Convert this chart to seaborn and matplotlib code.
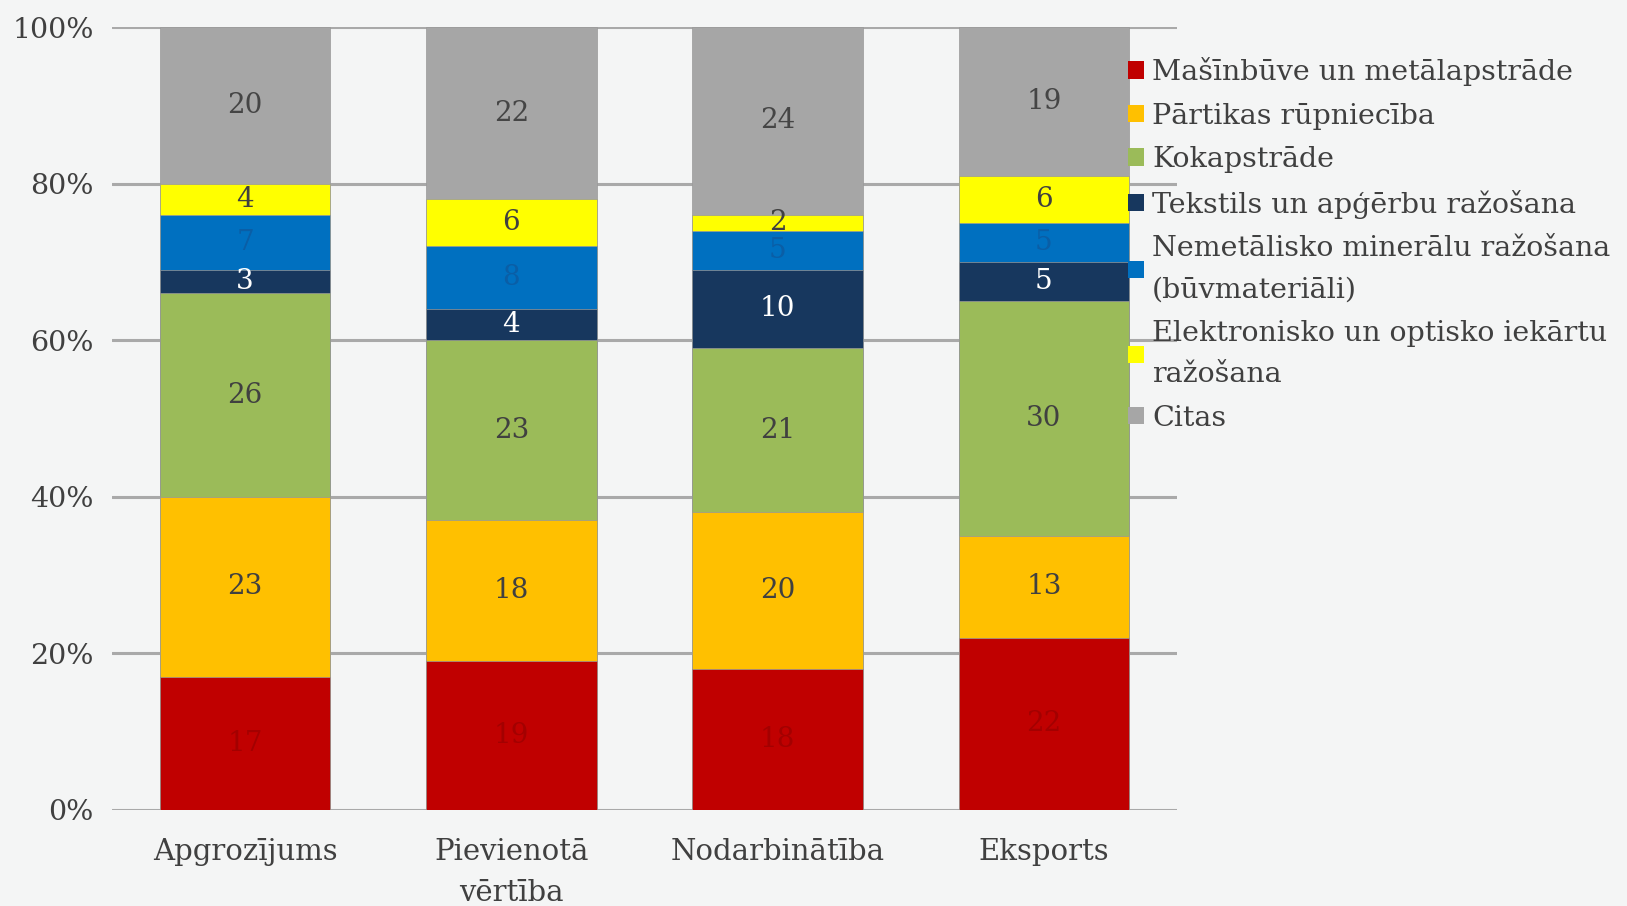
import numpy as np
import pandas as pd
import matplotlib
matplotlib.use("Agg")
import matplotlib.pyplot as plt
import seaborn as sns

# Data (percent shares)
categories = ["Apgrozījums", "Pievienotā\nvērtība", "Nodarbinātība", "Eksports"]
series_names = [
    "Mašīnbūve un metālapstrāde",
    "Pārtikas rūpniecība",
    "Kokapstrāde",
    "Tekstils un apģērbu ražošana",
    "Nemetālisko minerālu ražošana\n(būvmateriāli)",
    "Elektronisko un optisko iekārtu\nražošana",
    "Citas",
]
masinbuve = [17, 19, 18, 22]
partika = [23, 18, 20, 13]
koks = [26, 23, 21, 30]
tekstils = [3, 4, 10, 5]
nemetaliskie = [7, 8, 5, 5]
elektronika = [4, 6, 2, 6]
citas = [20, 22, 24, 19]

colors = ["#c00000", "#ffc000", "#9bbb59", "#17375e", "#0070c0", "#ffff00", "#a6a6a6"]
label_colors = ["#a30000", "#404040", "#404040", "white", "#0a5ea6", "#404040", "#454545"]

raw = [masinbuve, partika, koks, tekstils, nemetaliskie, elektronika, citas]
values = np.array(raw, dtype=float)
values = values / values.sum(axis=0) * 100
cum = values.cumsum(axis=0)

sns.set_theme(style="white")
plt.rcParams["font.family"] = ["DejaVu Serif"]

bg = "#f4f5f5"
fig = plt.figure(figsize=(16.27, 9.06), dpi=100, facecolor=bg)
ax = fig.add_axes([112 / 1627, 1 - 810 / 906, (1177 - 112) / 1627, (810 - 27) / 906])
ax.set_facecolor(bg)

# gridlines behind bars
for yv in range(0, 101, 20):
    ax.axhline(yv, color="#a9a9a9", lw=2.2, zorder=0)

# stacked bars: draw cumulative totals from the top series down
for i in range(len(series_names) - 1, -1, -1):
    df = pd.DataFrame({"cat": categories, "val": cum[i]})
    sns.barplot(data=df, x="cat", y="val", order=categories, color=colors[i],
                width=0.64, errorbar=None, saturation=1, ax=ax,
                edgecolor="#999999", linewidth=0.5, label=series_names[i], zorder=2)

# value labels
for i in range(len(series_names)):
    for j in range(len(categories)):
        mid = cum[i, j] - values[i, j] / 2
        ax.text(j, mid, str(raw[i][j]), ha="center", va="center", fontsize=20,
                color=label_colors[i], zorder=3)

ax.set_ylim(0, 100)
ax.set_xlim(-0.5, 3.5)
ax.set_yticks(range(0, 101, 20))
ax.set_yticklabels([f"{v}%" for v in range(0, 101, 20)], fontsize=20.5, color="#404040")
ax.tick_params(axis="y", length=0, pad=13)
ax.tick_params(axis="x", length=0, pad=20, labelsize=21, labelcolor="#404040")
for t in ax.get_xticklabels():
    t.set_linespacing(1.6)
ax.set_xlabel("")
ax.set_ylabel("")
for s in ax.spines.values():
    s.set_visible(False)

# legend in series order (bottom series first)
handles, labels = ax.get_legend_handles_labels()
if ax.get_legend() is not None:
    ax.get_legend().remove()
order = [labels.index(n) for n in series_names]
leg = fig.legend([handles[k] for k in order], [labels[k] for k in order],
                 loc="upper left", bbox_to_anchor=(1128 / 1627, 1 - 57 / 906),
                 frameon=False, fontsize=20.5, handlelength=0.55, handleheight=0.55,
                 handletextpad=0.3, labelspacing=0.58, borderpad=0, borderaxespad=0)
for t in leg.get_texts():
    t.set_color("#404040")
    t.set_linespacing(1.68)
for h in leg.legend_handles:
    h.set_edgecolor("none")

fig.savefig("out.png", dpi=100, facecolor=bg)
